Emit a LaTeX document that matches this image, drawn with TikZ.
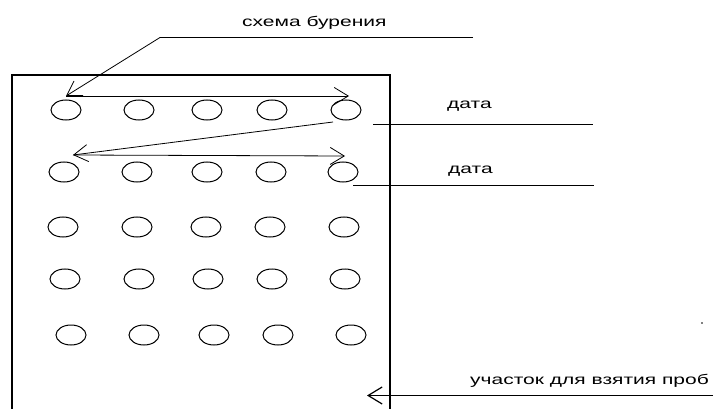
\documentclass[tikz,border=0pt]{standalone}
\usepackage{fontspec}
\setmainfont{Liberation Sans}[FakeStretch=1.5]
\usetikzlibrary{shapes.geometric,arrows.meta}

\begin{document}
\begin{tikzpicture}[x=1pt, y=-1pt,
		hole/.style={ellipse, draw, line width=1pt, minimum width=30pt, minimum height=20pt, inner sep=0pt},
		lbl/.style={anchor=base west, inner sep=0pt, font=\fontsize{14}{16}\selectfont},
		barb/.style={-{Straight Barb[length=14pt, width=17pt]}, line width=0.8pt}]
			\useasboundingbox (0,0) rectangle (715,409);
			\draw[line width=1.2pt] (12,409) |- (390,75) -- (390,409);

			\foreach \x [count=\c] in {66,139,207,272,346}
				\draw node[hole] (h1\c) at (\x,110) {};
			\foreach \x [count=\c] in {64,137,207,271,343}
				\draw node[hole] (h2\c) at (\x,172) {};
			\foreach \x [count=\c] in {63,137,206,270,344}
				\draw node[hole] (h3\c) at (\x,227) {};
			\foreach \x [count=\c] in {65,139,208,272,345}
				\draw node[hole] (h4\c) at (\x,279) {};
			\foreach \x [count=\c] in {71,144,214,278,351}
				\draw node[hole] (h5\c) at (\x,335) {};

			\draw node[lbl] (scheme) at (242,27) {схема бурения};
			\draw node[lbl] (date1) at (447,109) {дата};
			\draw node[lbl] (date2) at (448,174) {дата};
			\draw node[lbl] (site) at (470,384) {участок для взятия проб};

			\coordinate (s1) at (160,37.5);
			\coordinate (s2) at (473,37.5);
			\coordinate (a0) at (66,96);
			\coordinate (a1) at (349,96);
			\coordinate (a2) at (333,122);
			\coordinate (a3) at (73,155);
			\coordinate (a4) at (345,156);
			\coordinate (d1) at (373,124);
			\coordinate (d2) at (593,124);
			\coordinate (d3) at (353,185.5);
			\coordinate (d4) at (594,185.5);
			\coordinate (p1) at (713,395.5);
			\coordinate (p2) at (367,395.5);

			\draw[line width=0.9pt] (s2) -- (s1);
			\draw[barb] (s1) -- (a0);
			\draw[barb] (a0) -- (a1);
			\draw[barb] (a2) -- (a3);
			\draw[barb] (a3) -- (a4);
			\draw[line width=0.9pt] (d1) -- (d2);
			\draw[line width=0.9pt] (d3) -- (d4);
			\draw[barb, line width=1.2pt] (p1) -- (p2);
			\fill (702,323) circle (0.8pt);
		\end{tikzpicture}
\end{document}
